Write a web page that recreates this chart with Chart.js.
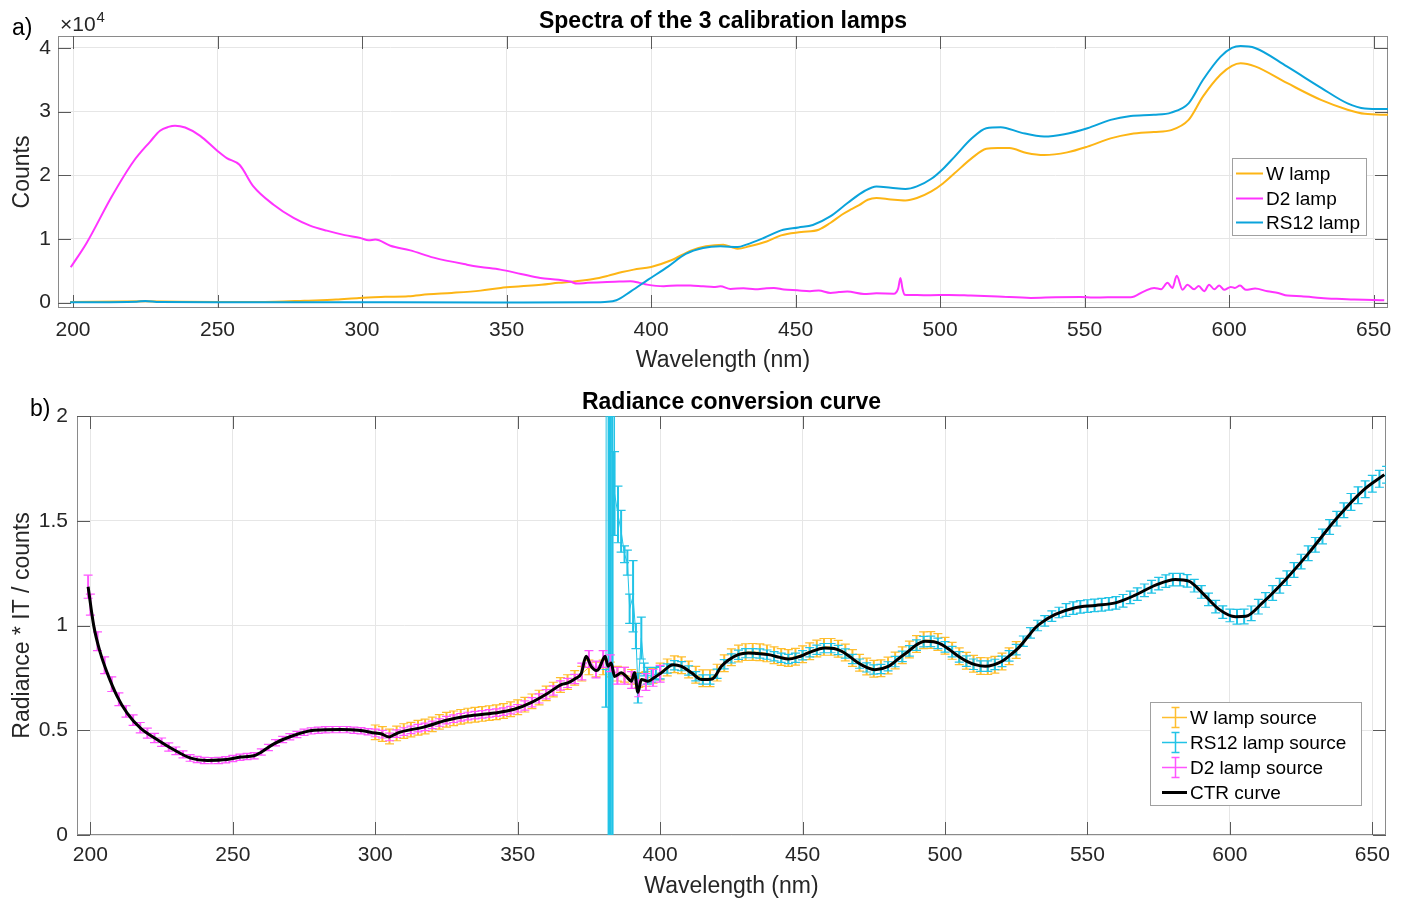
<!DOCTYPE html>
<html>
<head>
<meta charset="utf-8">
<script src="https://cdn.jsdelivr.net/npm/chart.js@4.4.1/dist/chart.umd.min.js"></script>
<style>
  html, body { margin: 0; padding: 0; background: #fff; }
  #wrap { position: relative; width: 1408px; height: 900px; overflow: hidden; background: #fff; }
  #wrap canvas { position: absolute; left: 0; }
</style>
</head>
<body>
<div id="wrap">
  <canvas id="lamps" width="1408" height="380" style="top:0"></canvas>
  <canvas id="ctr" width="1408" height="520" style="top:380px"></canvas>
</div>
<script>
// ---------- a) lamp spectra, raw counts ----------
const wLampWl = [199,225,250,270,280,291,299,308,316,323,331,341,348,355,362,368,374,380,385,390,394,400,407,414,419,425,428,430,434,440,445,452,458,462,466,469,472,475,478,483,488,492,497,501,505,511,516,520,524,530,536,544,551,559,566,574,580,586,591,597,601,604,609,620,632,641,647,655];
const wLampCounts = [100,200,100,150,300,470,740,900,1000,1300,1520,1880,2300,2550,2800,3100,3350,3700,4200,4800,5180,5600,6650,8200,8840,9100,8700,8470,8840,9600,10560,11090,11450,12500,13800,14590,15300,16160,16420,16200,16050,16420,17460,18700,20300,22700,24160,24300,24270,23500,23170,23600,24500,25800,26500,26800,27100,28700,32400,35800,37200,37600,37100,34500,31800,30300,29650,29500];

const d2LampWl = [199.2,204.7,213.4,220.9,226.7,230.1,233,235.3,238.8,244,
  249.8,253.2,257.6,262.4,269.4,276.3,282,287.8,294,299.4,
  302.3,304.6,309.8,316.7,324.8,336.3,341,347.9,355,361.7,
  368,372,374.4,378,384.8,389,392.9,396,398.6,404.4,
  409,413.6,418,421.7,424,427.5,432,436,440,442.5,
  446,450.6,455,458,462.1,465,467.9,473.7,478,484,
  485.5,486.3,487,487.7,492,496.7,503,510.6,520,531.4,
  540,548.7,553,558,566,570.6,574.1,576.5,578.7,580.4,
  581.9,583.9,585.6,587.9,589.5,591.4,593.1,594.9,596.6,598.3,
  600.6,602,603.8,605.8,609,613.3,617,620.2,625,631.8,
  637,643.3,650,653.7];
const d2LampCounts = [5540,9360,16670,22170,25300,27000,27600,27800,27500,26200,
  23900,22700,21650,18250,15370,13300,12100,11300,10600,10150,
  9800,9900,8940,8200,7060,5960,5600,5180,4500,3870,
  3600,3300,2980,3100,3250,3300,3350,3100,2820,2560,
  2700,2670,2550,2460,2550,2150,2250,2100,2250,2300,
  2050,1930,1800,1900,1520,1650,1730,1360,1450,1400,
  2200,3870,2200,1250,1180,1150,1200,1100,950,740,
  850,890,780,850,830,1770,2300,2100,3100,2300,
  4200,2000,2800,2100,2600,1800,2800,2100,2700,2000,
  2460,2300,2670,2000,2200,1770,1500,1100,1000,740,
  600,470,420,360];

const rs12LampWl = [199,222,225,230,250,300,350,380,384,388,393,399,406,412,418,424,430,433,439,445,451,456,462,468,474,478,483,488,492,497,501,505,511,516,521,528,536,543,551,559,566,574,580,586,591,597,601,604,609,620,632,641,647,655];
const rs12LampCounts = [50,150,250,80,60,40,20,50,100,360,1770,3600,5700,7640,8580,8840,8730,9100,10150,11340,11800,12200,13540,15640,17570,18250,18050,17840,18250,19450,21000,22900,25800,27400,27560,26700,26100,26460,27400,28700,29300,29500,29850,31300,35000,38600,40000,40300,40000,37100,33700,31300,30500,30400];

const wavelengthTicks = [200,250,300,350,400,450,500,550,600,650];
const countTicks = [0,10000,20000,30000,40000];
const countTickLabels = ['0','1','2','3','4'];

// ---------- b) radiance * IT / counts per source, with uncertainty ----------
const wSrcWl = [300,302.5,305,307.5,310,312.5,315,317.5,320,322.5,
  325,327.5,330,332.5,335,337.5,340,342.5,345,347.5,
  350,352.5,355,357.5,360,362.5,365,367.5,370,372.5,
  375,377.5,380,382.5,385,387.5,390,392.5,395,397.5,
  400,402.5,405,407.5,410,412.5,415,417.5,420,422.5,
  425,427.5,430,432.5,435,437.5,440,442.5,445,447.5,
  450,452.5,455,457.5,460,462.5,465,467.5,470,472.5,
  475,477.5,480,482.5,485,487.5,490,492.5,495,497.5,
  500,502.5,505,507.5,510,512.5,515,517.5,520,522.5,
  525];
const wSrcVal = [0.49,0.482,0.47,0.485,0.496,0.503,0.512,0.518,0.528,0.54,
  0.55,0.557,0.564,0.57,0.574,0.578,0.582,0.586,0.592,0.60,
  0.61,0.622,0.638,0.656,0.676,0.694,0.716,0.73,0.75,0.77,
  0.80,0.79,0.80,0.79,0.77,0.765,0.755,0.74,0.745,0.76,
  0.78,0.80,0.815,0.81,0.79,0.765,0.748,0.748,0.775,0.82,
  0.848,0.866,0.873,0.874,0.872,0.867,0.858,0.85,0.845,0.851,
  0.863,0.877,0.89,0.898,0.898,0.889,0.871,0.845,0.822,0.804,
  0.794,0.796,0.809,0.833,0.858,0.885,0.912,0.93,0.931,0.921,
  0.903,0.879,0.853,0.832,0.817,0.807,0.806,0.813,0.828,0.853,
  0.883];
const wSrcErr = [0.035,0.035,0.035,0.035,0.035,0.035,0.035,0.035,0.035,0.035,
  0.035,0.035,0.035,0.035,0.035,0.035,0.035,0.035,0.035,0.035,
  0.035,0.035,0.035,0.035,0.035,0.035,0.035,0.035,0.035,0.035,
  0.035,0.035,0.035,0.035,0.035,0.035,0.035,0.035,0.035,0.035,
  0.04,0.04,0.04,0.04,0.04,0.04,0.04,0.04,0.04,0.04,
  0.04,0.04,0.04,0.04,0.04,0.04,0.04,0.04,0.04,0.04,
  0.04,0.04,0.04,0.04,0.04,0.04,0.04,0.04,0.04,0.04,
  0.04,0.04,0.04,0.04,0.04,0.04,0.04,0.04,0.04,0.04,
  0.04,0.04,0.04,0.04,0.04,0.04,0.04,0.04,0.04,0.04,
  0.04];

const rs12SrcWl = [381,381.9,382.4,383.3,384,385.2,386.3,387.5,388.5,389.3,390.5,391.5,392.2,393.4,394.4,395.5,397,398.5,400,
  402.5,405,407.5,410,412.5,415,417.5,420,422.5,425,
  427.5,430,432.5,435,437.5,440,442.5,445,447.5,450,
  452.5,455,457.5,460,462.5,465,467.5,470,472.5,475,
  477.5,480,482.5,485,487.5,490,492.5,495,497.5,500,
  502.5,505,507.5,510,512.5,515,517.5,520,522.5,525,
  527.5,530,532.5,535,537.5,540,542.5,545,547.5,550,
  552.5,555,557.5,560,562.5,565,567.5,570,572.5,575,
  577.5,580,582.5,585,587.5,590,592.5,595,597.5,600,
  602.5,605,607.5,610,612.5,615,617.5,620,622.5,625,
  627.5,630,632.5,635,637.5,640,642.5,645,647.5,650,
  652.5,655];
const rs12SrcVal = [0.70,25,-25,25,1.63,1.53,1.45,1.34,1.30,1.08,1.14,0.95,0.70,0.94,0.79,0.76,0.76,0.77,0.775,
  0.795,0.81,0.806,0.785,0.758,0.742,0.742,0.77,0.815,0.843,
  0.86,0.868,0.868,0.866,0.861,0.853,0.846,0.84,0.846,0.858,
  0.872,0.884,0.892,0.892,0.883,0.866,0.84,0.818,0.80,0.79,
  0.792,0.805,0.828,0.853,0.879,0.906,0.923,0.924,0.915,0.898,
  0.875,0.85,0.83,0.815,0.806,0.806,0.814,0.829,0.855,0.885,
  0.925,0.965,1.0,1.022,1.045,1.062,1.074,1.083,1.089,1.093,
  1.096,1.099,1.103,1.108,1.118,1.134,1.15,1.168,1.185,1.2,
  1.212,1.219,1.219,1.213,1.19,1.16,1.125,1.09,1.064,1.048,
  1.042,1.043,1.058,1.09,1.122,1.155,1.19,1.226,1.265,1.305,
  1.345,1.385,1.425,1.47,1.51,1.55,1.59,1.622,1.65,1.677,
  1.70,1.72];
const rs12SrcErr = [0.09,27,27,27,0.20,0.135,0.10,0.04,0.06,0.07,0.17,0.06,0.07,0.10,0.03,0.04,0.03,0.03,0.03,
  0.022,0.022,0.022,0.022,0.022,0.022,0.022,0.022,0.022,0.022,
  0.022,0.022,0.022,0.022,0.022,0.022,0.022,0.022,0.022,0.022,
  0.022,0.022,0.022,0.022,0.022,0.022,0.022,0.022,0.022,0.022,
  0.022,0.022,0.025,0.025,0.025,0.025,0.025,0.025,0.025,0.025,
  0.025,0.025,0.025,0.025,0.025,0.025,0.025,0.025,0.025,0.025,
  0.025,0.025,0.025,0.025,0.025,0.025,0.03,0.03,0.03,0.03,
  0.03,0.03,0.03,0.03,0.03,0.03,0.03,0.03,0.03,0.03,
  0.03,0.03,0.03,0.03,0.03,0.03,0.03,0.03,0.03,0.03,
  0.035,0.035,0.035,0.035,0.035,0.035,0.035,0.035,0.035,0.035,
  0.035,0.035,0.035,0.035,0.035,0.035,0.04,0.04,0.04,0.04,
  0.04,0.04];

const d2SrcWl = [199.2,
  200,202.5,205,207.5,210,212.5,215,217.5,220,222.5,
  225,227.5,230,232.5,235,237.5,240,242.5,245,247.5,
  250,252.5,255,257.5,260,262.5,265,267.5,270,272.5,
  275,277.5,280,282.5,285,287.5,290,292.5,295,297.5,
  300,302.5,305,307.5,310,312.5,315,317.5,320,322.5,
  325,327.5,330,332.5,335,337.5,340,342.5,345,347.5,
  350,352.5,355,357.5,360,362.5,365,367.5,370,372.5,
  375,377.5,380,382.5,385,387.5,390,392.5,395,397.5,
  400];
const d2SrcVal = [1.185,
  1.10,0.925,0.81,0.72,0.648,0.59,0.548,0.512,0.486,0.463,
  0.443,0.42,0.402,0.385,0.368,0.36,0.356,0.355,0.356,0.359,
  0.365,0.371,0.375,0.378,0.396,0.418,0.44,0.456,0.469,0.48,
  0.49,0.497,0.50,0.502,0.503,0.503,0.503,0.50,0.498,0.493,
  0.487,0.481,0.468,0.484,0.494,0.502,0.51,0.516,0.526,0.537,
  0.548,0.555,0.562,0.568,0.572,0.576,0.58,0.584,0.589,0.596,
  0.605,0.618,0.634,0.652,0.672,0.69,0.714,0.726,0.745,0.78,
  0.84,0.79,0.84,0.82,0.76,0.76,0.74,0.70,0.73,0.75,
  0.77];
const d2SrcErr = [0.055,
  0.05,0.045,0.04,0.035,0.03,0.027,0.025,0.025,0.024,0.022,
  0.02,0.02,0.018,0.017,0.016,0.015,0.015,0.015,0.015,0.015,
  0.015,0.015,0.015,0.015,0.015,0.015,0.015,0.015,0.015,0.015,
  0.015,0.015,0.015,0.015,0.015,0.015,0.015,0.015,0.015,0.015,
  0.018,0.018,0.018,0.018,0.018,0.018,0.018,0.018,0.018,0.018,
  0.018,0.018,0.018,0.018,0.018,0.018,0.018,0.018,0.018,0.018,
  0.018,0.022,0.022,0.022,0.022,0.022,0.022,0.022,0.022,0.04,
  0.04,0.04,0.04,0.04,0.04,0.04,0.04,0.04,0.04,0.04,
  0.04];

const ctrWl = [199.2,201.2,203.5,205.9,209.4,212.9,217.6,223.5,229.3,235.2,
  241,248,252.7,257.4,259.8,264.4,270.3,278.5,288,294,
  300,302,304.9,306.5,309,317,325,332.5,341.8,348.8,
  354.7,360.6,365.3,367.6,370,372.3,374,375.8,377.6,378.5,
  379.9,380.7,381.7,382.8,384,386.4,388.1,389.9,391,392.2,
  393.4,395.7,398,400.4,404.5,407.5,411,414.6,418.3,421.5,
  424,427.4,430.9,434,438,442,445,448.5,452,457.8,
  461,463.7,466.5,469.6,472.5,475.4,480.1,484,487.2,490,
  493,496,498.9,502,504.7,507.5,510.6,514.1,517,520,
  523,525.8,529,531.7,534,538.7,545.7,552.8,559.8,566.8,
  573.9,580.9,585.6,590.3,596.2,602,605.6,611.4,619.6,627.8,
  637.2,646.6,654.2];
const ctrVal = [1.185,0.997,0.869,0.774,0.662,0.582,0.510,0.455,0.407,0.367,
  0.356,0.360,0.372,0.378,0.394,0.435,0.470,0.500,0.503,0.500,
  0.487,0.483,0.468,0.478,0.492,0.515,0.548,0.568,0.582,0.600,
  0.632,0.677,0.718,0.726,0.745,0.770,0.853,0.805,0.785,0.793,
  0.837,0.853,0.805,0.821,0.757,0.774,0.757,0.734,0.774,0.681,
  0.742,0.734,0.752,0.774,0.813,0.805,0.774,0.742,0.745,0.805,
  0.835,0.861,0.869,0.866,0.861,0.848,0.840,0.850,0.869,0.893,
  0.890,0.877,0.852,0.821,0.800,0.789,0.805,0.845,0.877,0.908,
  0.925,0.922,0.909,0.880,0.853,0.830,0.813,0.805,0.812,0.829,
  0.860,0.893,0.945,0.989,1.015,1.053,1.085,1.096,1.108,1.145,
  1.193,1.220,1.212,1.156,1.077,1.042,1.044,1.108,1.220,1.348,
  1.507,1.643,1.720];

const ratioTicks = [0,0.5,1,1.5,2];
const ratioTickLabels = ['0','0.5','1','1.5','2'];

// ---------- shared styling ----------
const FONT = '"Liberation Sans", Arial, Helvetica, sans-serif';
Chart.defaults.font.family = FONT;
Chart.defaults.color = '#262626';

const LAMP_COLORS = { w: '#FDB515', d2: '#FF33FF', rs12: '#0AA3DB' };
const SRC_COLORS = { w: '#FFBE2E', rs12: '#22C3E6', d2: '#FF55FF', ctr: '#000000' };
const GRID = '#e6e6e6';
const AXIS = '#8a8a8a';

const pts = (xs, ys) => xs.map((x, i) => ({ x, y: ys[i] }));

// box around the plot area with inward tick marks on all four sides
function axesBox(tickLen) {
  return {
    id: 'axesBox',
    beforeDatasetsDraw(chart) {
      const { ctx, chartArea: a, scales: { x, y } } = chart;
      ctx.save();
      ctx.strokeStyle = AXIS;
      ctx.lineWidth = 1;
      ctx.strokeRect(a.left + 0.5, a.top + 0.5, a.width - 1, a.height - 1);
      ctx.strokeStyle = '#5a5a5a';
      ctx.beginPath();
      x.ticks.forEach(t => {
        const px = Math.round(x.getPixelForValue(t.value)) + 0.5;
        ctx.moveTo(px, a.bottom); ctx.lineTo(px, a.bottom - tickLen);
        ctx.moveTo(px, a.top); ctx.lineTo(px, a.top + tickLen);
      });
      y.ticks.forEach(t => {
        const py = Math.round(y.getPixelForValue(t.value)) + 0.5;
        ctx.moveTo(a.left, py); ctx.lineTo(a.left + tickLen, py);
        ctx.moveTo(a.right, py); ctx.lineTo(a.right - tickLen, py);
      });
      ctx.stroke();
      ctx.restore();
    }
  };
}

// vertical uncertainty bars with caps, drawn right after each dataset's line
const errorBars = {
  id: 'errorBars',
  afterDatasetDraw(chart, args) {
    const ds = chart.data.datasets[args.index];
    if (!ds.errors) return;
    const { ctx, chartArea: a, scales: { x, y } } = chart;
    const cap = 4.5;
    ctx.save();
    ctx.beginPath();
    ctx.rect(a.left, a.top, a.width, a.height);
    ctx.clip();
    ctx.strokeStyle = ds.borderColor;
    // stems
    ctx.lineWidth = 2;
    ctx.beginPath();
    ds.data.forEach((p, i) => {
      const e = ds.errors[i];
      const px = x.getPixelForValue(p.x);
      ctx.moveTo(px, y.getPixelForValue(p.y + e));
      ctx.lineTo(px, y.getPixelForValue(p.y - e));
    });
    ctx.stroke();
    // caps
    ctx.lineWidth = 1.2;
    ctx.beginPath();
    ds.data.forEach((p, i) => {
      const e = ds.errors[i];
      const px = x.getPixelForValue(p.x);
      const yt = y.getPixelForValue(p.y + e);
      const yb = y.getPixelForValue(p.y - e);
      ctx.moveTo(px - cap, yt); ctx.lineTo(px + cap, yt);
      ctx.moveTo(px - cap, yb); ctx.lineTo(px + cap, yb);
    });
    ctx.stroke();
    ctx.restore();
  }
};

// panel letter and the axis multiplier
function panelTag(tag, tx, ty, exponent) {
  return {
    id: 'panelTag',
    afterDraw(chart) {
      const ctx = chart.ctx;
      ctx.save();
      ctx.textBaseline = 'alphabetic';
      ctx.textAlign = 'left';
      ctx.fillStyle = '#000';
      ctx.font = `23px ${FONT}`;
      ctx.fillText(tag, tx, ty);
      if (exponent) {
        ctx.fillStyle = '#262626';
        ctx.font = `21px ${FONT}`;
        const base = '\u00d710';
        ctx.fillText(base, exponent.x, exponent.y);
        const w = ctx.measureText(base).width;
        ctx.font = `15px ${FONT}`;
        ctx.fillText(exponent.power, exponent.x + w + 1, exponent.y - 9);
      }
      ctx.restore();
    }
  };
}

// boxed legend placed inside the plot area
function boxLegend(L) {
  return {
    id: 'boxLegend',
    afterDraw(chart) {
      const ctx = chart.ctx;
      ctx.save();
      ctx.fillStyle = '#fff';
      ctx.fillRect(L.x, L.y, L.w, L.h);
      ctx.strokeStyle = '#a0a0a0';
      ctx.lineWidth = 1;
      ctx.strokeRect(L.x + 0.5, L.y + 0.5, L.w, L.h);
      ctx.font = `19px ${FONT}`;
      ctx.textBaseline = 'middle';
      ctx.textAlign = 'left';
      chart.data.datasets.forEach((ds, k) => {
        const cy = Math.round(L.y + L.firstRow + k * L.rowStep) + 0.5;
        ctx.strokeStyle = ds.borderColor;
        ctx.lineWidth = ds.errors ? 1.5 : ds.borderWidth;
        ctx.beginPath();
        ctx.moveTo(L.symX0, cy); ctx.lineTo(L.symX1, cy);
        if (ds.errors) {
          const cx = Math.round((L.symX0 + L.symX1) / 2) + 0.5;
          ctx.moveTo(cx, cy - 10); ctx.lineTo(cx, cy + 10);
          ctx.moveTo(cx - 4, cy - 10); ctx.lineTo(cx + 4, cy - 10);
          ctx.moveTo(cx - 4, cy + 10); ctx.lineTo(cx + 4, cy + 10);
        }
        ctx.stroke();
        ctx.fillStyle = '#000';
        ctx.fillText(ds.label, L.textX, cy + 1);
      });
      ctx.restore();
    }
  };
}

function xAxis(min, max, height, tickPad, titlePadBottom) {
  return {
    type: 'linear', min, max,
    afterBuildTicks: s => { s.ticks = wavelengthTicks.map(v => ({ value: v })); },
    afterFit: s => { s.height = height; },
    grid: { color: GRID, lineWidth: 1, drawTicks: false },
    border: { display: false },
    ticks: { font: { size: 21 }, padding: tickPad, color: '#262626', autoSkip: false, maxRotation: 0,
             callback: v => String(v) },
    title: { display: true, text: 'Wavelength (nm)', font: { size: 23, lineHeight: 1 }, color: '#262626',
             padding: { top: 0, bottom: titlePadBottom } }
  };
}

function yAxis(min, max, width, ticks, labels, tickPad, title) {
  return {
    type: 'linear', min, max,
    afterBuildTicks: s => { s.ticks = ticks.map(v => ({ value: v })); },
    afterFit: s => { s.width = width; },
    grid: { color: GRID, lineWidth: 1, drawTicks: false },
    border: { display: false },
    ticks: { font: { size: 21 }, padding: tickPad, color: '#262626', autoSkip: false,
             callback: (v, i) => labels[i] },
    title: { display: true, text: title, font: { size: 23 }, color: '#262626',
             padding: { top: 9, bottom: 0 } }
  };
}

// ---------- panel a ----------
new Chart(document.getElementById('lamps'), {
  type: 'line',
  data: {
    datasets: [
      { label: 'W lamp', data: pts(wLampWl, wLampCounts), borderColor: LAMP_COLORS.w, borderWidth: 2, pointRadius: 0, cubicInterpolationMode: 'monotone', order: 3 },
      { label: 'D2 lamp', data: pts(d2LampWl, d2LampCounts), borderColor: LAMP_COLORS.d2, borderWidth: 2, pointRadius: 0, cubicInterpolationMode: 'monotone', order: 2 },
      { label: 'RS12 lamp', data: pts(rs12LampWl, rs12LampCounts), borderColor: LAMP_COLORS.rs12, borderWidth: 2, pointRadius: 0, cubicInterpolationMode: 'monotone', order: 1 }
    ]
  },
  options: {
    responsive: false, animation: false, devicePixelRatio: 1,
    layout: { padding: { left: 0, right: 20, top: 0, bottom: 0 } },
    plugins: {
      legend: { display: false },
      tooltip: { enabled: false },
      title: { display: true, text: 'Spectra of the 3 calibration lamps', fullSize: false, color: '#000',
               font: { size: 23, weight: 'bold', lineHeight: 1.1 }, padding: { top: 9.35, bottom: 1.35 } }
    },
    scales: {
      x: xAxis(194.8, 655, 72, 9.4, 7.5),
      y: yAxis(-850, 41880, 58, countTicks, countTickLabels, 7, 'Counts')
    }
  },
  plugins: [
    axesBox(13),
    panelTag('a)', 12, 35, { x: 60, y: 31, power: '4' }),
    boxLegend({ x: 1232, y: 158, w: 134, h: 77, firstRow: 15, rowStep: 24.5, symX0: 1236, symX1: 1263, textX: 1266 })
  ]
});

// ---------- panel b ----------
new Chart(document.getElementById('ctr'), {
  type: 'line',
  data: {
    datasets: [
      { label: 'W lamp source', data: pts(wSrcWl, wSrcVal), errors: wSrcErr, borderColor: SRC_COLORS.w, borderWidth: 1, pointRadius: 0, order: 4 },
      { label: 'RS12 lamp source', data: pts(rs12SrcWl, rs12SrcVal), errors: rs12SrcErr, borderColor: SRC_COLORS.rs12, borderWidth: 1, pointRadius: 0, order: 3 },
      { label: 'D2 lamp source', data: pts(d2SrcWl, d2SrcVal), errors: d2SrcErr, borderColor: SRC_COLORS.d2, borderWidth: 1, pointRadius: 0, order: 2 },
      { label: 'CTR curve', data: pts(ctrWl, ctrVal), borderColor: SRC_COLORS.ctr, borderWidth: 3, pointRadius: 0, cubicInterpolationMode: 'monotone', order: 1 }
    ]
  },
  options: {
    responsive: false, animation: false, devicePixelRatio: 1,
    layout: { padding: { left: 0, right: 22, top: 0, bottom: 0 } },
    plugins: {
      legend: { display: false },
      tooltip: { enabled: false },
      title: { display: true, text: 'Radiance conversion curve', fullSize: false, color: '#000',
               font: { size: 23, weight: 'bold', lineHeight: 1.1 }, padding: { top: 9.95, bottom: 0.75 } }
    },
    scales: {
      x: xAxis(195.3, 654.8, 65, 7.4, 1.5),
      y: yAxis(0, 2, 77, ratioTicks, ratioTickLabels, 9, 'Radiance * IT / counts')
    }
  },
  plugins: [
    errorBars,
    axesBox(13),
    panelTag('b)', 30, 36, null),
    boxLegend({ x: 1150, y: 322, w: 211, h: 103, firstRow: 15, rowStep: 25, symX0: 1162, symX1: 1187, textX: 1190 })
  ]
});
</script>
</body>
</html>
